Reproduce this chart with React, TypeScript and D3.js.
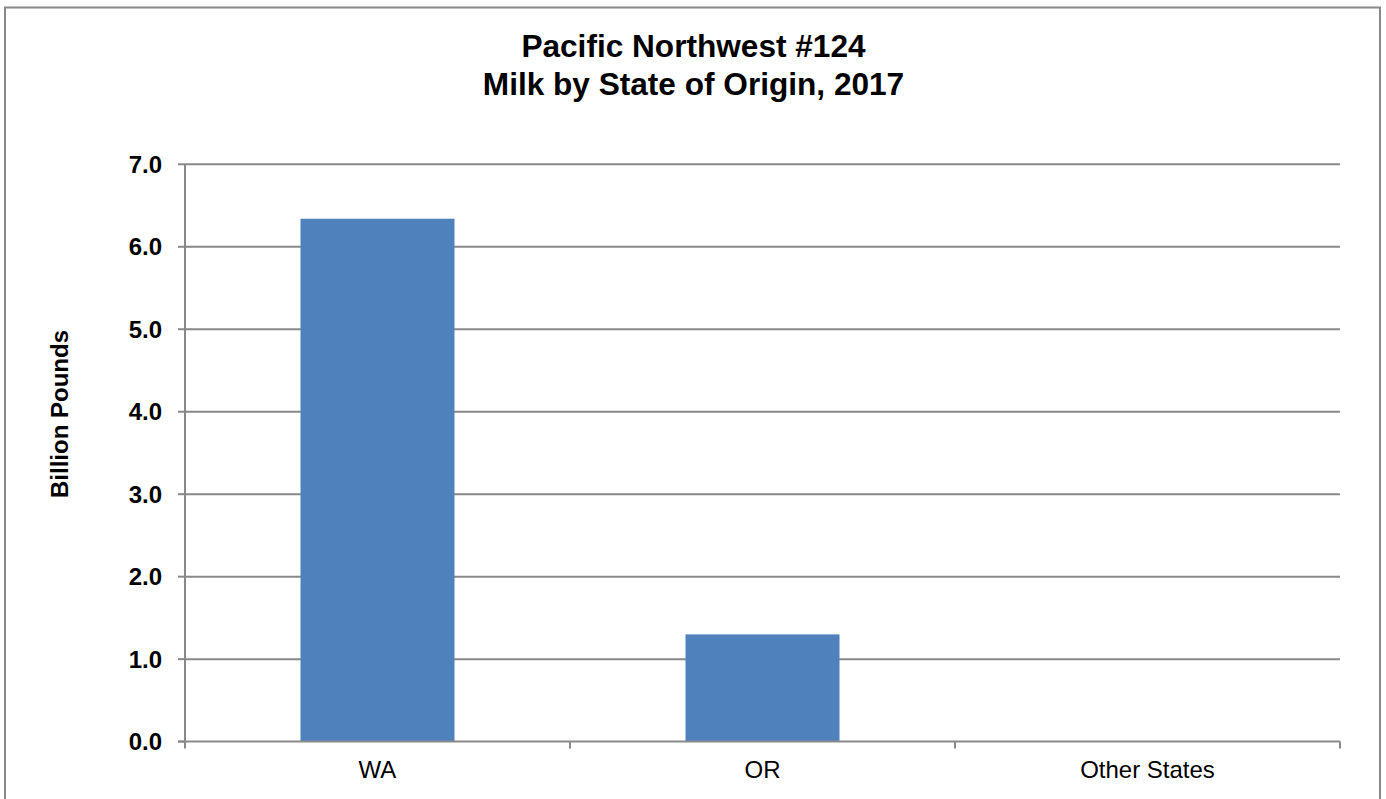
import React from "react";
import * as d3 from "d3";

const categories = ["WA", "OR", "Other States"];
const values = [6.34, 1.3, 0.0];
const yTicks = [0, 1, 2, 3, 4, 5, 6, 7];
const titleLines = ["Pacific Northwest #124", "Milk by State of Origin, 2017"];
const yLabel = "Billion Pounds";

const W = 1386;
const H = 799;
const plot = { left: 185, right: 1340, top: 164.3, bottom: 741.6 };
const grid = "#898989";
const font = "'Liberation Sans', Arial, sans-serif";

export default function App() {
  const x = d3.scaleBand<string>().domain(categories).range([plot.left, plot.right]).paddingInner(0.6).paddingOuter(0.3);
  const xb = d3.scaleBand<string>().domain(categories).range([plot.left, plot.right]);
  const y = d3.scaleLinear().domain([0, 7]).range([plot.bottom, plot.top]);
  const fmt = d3.format(".1f");
  const edges = [...categories.map((c) => xb(c) as number), plot.right];

  return (
    <svg width={W} height={H} style={{ position: "absolute", left: 0, top: 0, background: "#fff" }}>
      <rect x={5} y={7.5} width={1375} height={H + 10} fill="#fff" stroke={grid} strokeWidth={2} />
      <text x={693.5} textAnchor="middle" fontFamily={font} fontWeight="bold" fontSize={31.6} fill="#000">
        {titleLines.map((t, i) => (
          <tspan key={i} x={693.5} y={56.5 + i * 38.5}>{t}</tspan>
        ))}
      </text>
      {yTicks.map((t) => (
        <g key={t}>
          {t > 0 && <line x1={plot.left} x2={plot.right} y1={y(t)} y2={y(t)} stroke={grid} strokeWidth={2} />}
          <line x1={plot.left - 7} x2={plot.left} y1={y(t)} y2={y(t)} stroke={grid} strokeWidth={2} />
          <text x={162} y={y(t) + 8.5} textAnchor="end" fontFamily={font} fontWeight="bold" fontSize={24} fill="#000">
            {fmt(t)}
          </text>
        </g>
      ))}
      {categories.map((c, i) => (
        <rect key={c} x={x(c)} y={y(values[i])} width={x.bandwidth()} height={plot.bottom - y(values[i])} fill="#4F81BD" />
      ))}
      <line x1={plot.left} x2={plot.left} y1={plot.top} y2={plot.bottom} stroke={grid} strokeWidth={2} />
      <line x1={plot.left - 7} x2={plot.right} y1={plot.bottom} y2={plot.bottom} stroke={grid} strokeWidth={2} />
      {edges.map((e, i) => (
        <line key={i} x1={e} x2={e} y1={plot.bottom} y2={plot.bottom + 7} stroke={grid} strokeWidth={2} />
      ))}
      {categories.map((c) => (
        <text key={c} x={(xb(c) as number) + xb.bandwidth() / 2} y={777.7} textAnchor="middle" fontFamily={font} fontSize={24} fill="#000">
          {c}
        </text>
      ))}
      <text transform="translate(68,414) rotate(-90)" textAnchor="middle" fontFamily={font} fontWeight="bold" fontSize={24} fill="#000">
        {yLabel}
      </text>
    </svg>
  );
}
